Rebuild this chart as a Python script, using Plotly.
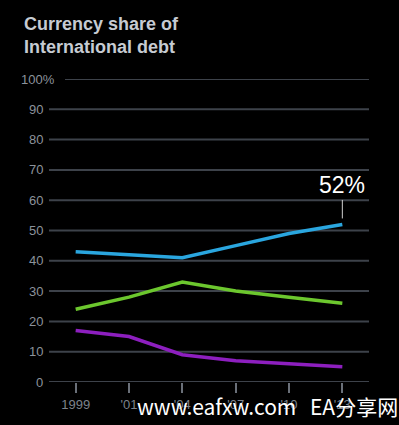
import plotly.graph_objects as go

years = ["1999", "'01", "'04", "'07", "'10", "'13"]
blue_vals = [43, 42, 41, 45, 49, 52]
green_vals = [24, 28, 33, 30, 28, 26]
purple_vals = [17, 15, 9, 7, 6, 5]
y_ticks = [0, 10, 20, 30, 40, 50, 60, 70, 80, 90, 100]
y_labels = ["0", "10", "20", "30", "40", "50", "60", "70", "80", "90", "100%"]

W, H = 399, 425
ML, MR, MT, MB = 49, 30, 79, 43
pw = W - ML - MR
ph = H - MT - MB

fig = go.Figure()
x = list(range(len(years)))
for vals, col in [(purple_vals, "#8d1fbf"), (green_vals, "#6cc72e"), (blue_vals, "#2aa6df")]:
    fig.add_trace(go.Scatter(x=x, y=vals, mode="lines",
                             line=dict(color=col, width=3.5), hoverinfo="skip"))

grid_col = "#3d424a"
lab_font = dict(size=13, color="#8c929b", family="Liberation Sans")
shapes = []
annotations = []
for v, lab in zip(y_ticks, y_labels):
    x0 = 0 if lab != "100%" else (65 - ML) / pw
    shapes.append(dict(type="line", xref="paper", yref="y", x0=x0, x1=1, y0=v, y1=v,
                       line=dict(color=grid_col, width=2), layer="below"))
    if lab == "100%":
        annotations.append(dict(xref="paper", yref="y", x=(19 - ML) / pw, y=v, text=lab,
                                xanchor="left", yanchor="middle", showarrow=False, font=lab_font))
    else:
        annotations.append(dict(xref="paper", yref="y", x=(45 - ML) / pw, y=v, text=lab,
                                xanchor="right", yanchor="middle", showarrow=False, font=lab_font))

annotations.append(dict(xref="paper", yref="paper", x=(22 - ML) / pw, y=1 + (MT - 12) / ph,
                        xanchor="left", yanchor="top", align="left", showarrow=False,
                        text="<b>Currency share of<br>International debt</b>",
                        font=dict(size=18, color="#c6cbd2", family="Liberation Sans")))
annotations.append(dict(xref="x", yref="y", x=x[-1], y=blue_vals[-1],
                        text=f"{blue_vals[-1]}%", showarrow=True, arrowhead=0,
                        arrowwidth=1, arrowcolor="#d0d0d0", ax=0, ay=-39, standoff=6,
                        font=dict(size=23, color="#ffffff", family="Liberation Sans")))
wm_font = dict(size=21, color="#ffffff", family="Noto Sans CJK SC")
for txt, px in [("www.eafxw.com", 135), ("EA分享网", 308)]:
    annotations.append(dict(xref="paper", yref="paper", x=(px - ML) / pw,
                            y=-(423 - (H - MB)) / ph, xanchor="left", yanchor="bottom",
                            showarrow=False, text=txt, font=wm_font))

fig.update_layout(
    width=W, height=H,
    margin=dict(l=ML, r=MR, t=MT, b=MB),
    paper_bgcolor="#000000", plot_bgcolor="#000000",
    showlegend=False,
    shapes=shapes, annotations=annotations,
    xaxis=dict(range=[-0.5, len(years) - 0.5], tickvals=x, ticktext=years,
               showgrid=False, zeroline=False, showline=False,
               ticks="outside", ticklen=10, tickwidth=1.5, tickcolor="#6a7079",
               tickfont=dict(size=13, color="#7d838c", family="Liberation Sans"),
               fixedrange=True),
    yaxis=dict(range=[0, 100], showticklabels=False, showgrid=False, zeroline=False,
               showline=False, fixedrange=True),
)

fig.write_html("out.html", config={"displayModeBar": False},
               post_script="document.body.style.margin='0';document.body.style.background='#000';document.body.style.overflow='hidden';")
